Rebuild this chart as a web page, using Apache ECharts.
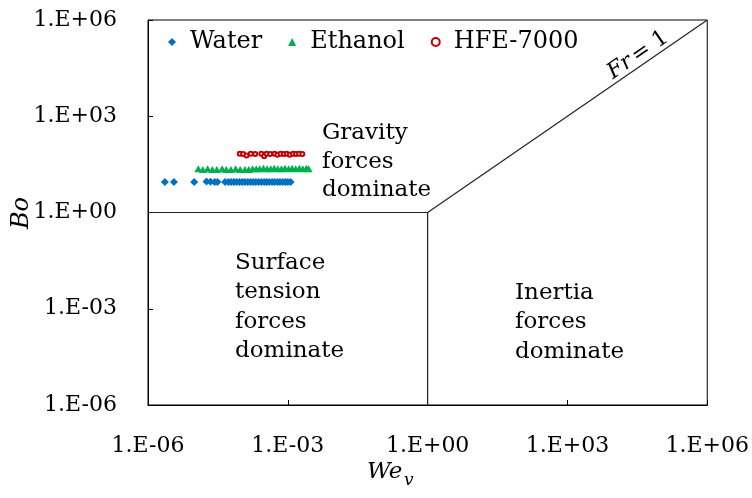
<!DOCTYPE html>
<html>
<head>
<meta charset="utf-8">
<script src="https://cdn.jsdelivr.net/npm/echarts@6/dist/echarts.min.js"></script>
<style>html,body{margin:0;padding:0;background:#fff}#c{width:752px;height:498px}</style>
</head>
<body>
<div id="c"></div>
<script>
// Data
const waterWe = [2.3e-6, 3.6e-6, 9.8e-6, 1.8e-5, 2.2e-5, 2.7e-5, 3.1e-5, 4.5e-5, 5.3e-5, 6.1e-5, 7.0e-5, 8.0e-5, 9.2e-5, 1.05e-4, 1.2e-4, 1.38e-4, 1.58e-4, 1.8e-4, 2.05e-4, 2.35e-4, 2.7e-4, 3.1e-4, 3.5e-4, 4.0e-4, 4.6e-4, 5.2e-4, 6.0e-4, 6.8e-4, 7.8e-4, 8.9e-4, 1.0e-3, 1.15e-3];
const waterBo = [9.0, 9.0, 9.0, 9.3, 9.1, 9.0, 8.9, 8.9, 9.0, 8.9, 9.0, 8.9, 9.0, 9.0, 8.9, 9.0, 9.0, 8.9, 9.0, 9.0, 8.9, 9.0, 9.0, 8.9, 9.0, 9.0, 8.9, 9.0, 9.0, 8.9, 9.0, 9.0];
const ethanolWe = [1.2e-5, 1.5e-5, 1.9e-5, 2.4e-5, 3.0e-5, 3.9e-5, 4.8e-5, 6.0e-5, 7.6e-5, 9.5e-5, 1.2e-4, 1.45e-4, 1.75e-4, 2.1e-4, 2.5e-4, 3.0e-4, 3.6e-4, 4.3e-4, 5.1e-4, 6.1e-4, 7.3e-4, 8.7e-4, 1.04e-3, 1.24e-3, 1.48e-3, 1.77e-3, 2.1e-3, 2.5e-3, 2.8e-3];
const ethanolBo = [23, 22, 23, 22, 22, 23, 22, 22, 23, 22, 22, 22, 23, 23, 23, 24, 23, 23, 24, 23, 23, 24, 23, 24, 23, 24, 23, 24, 23];
const hfeWe = [9.3e-5, 1.1e-4, 1.3e-4, 1.6e-4, 2.0e-4, 2.7e-4, 3.1e-4, 3.5e-4, 4.2e-4, 5.2e-4, 6.0e-4, 7.0e-4, 8.2e-4, 9.5e-4, 1.1e-3, 1.3e-3, 1.5e-3, 1.75e-3, 2.05e-3];
const hfeBo = [68, 66, 60, 68, 67, 68, 57, 68, 67, 68, 63, 68, 66, 68, 63, 68, 67, 68, 66];
// Regime boundaries (We, Bo)
const boundaryLine = [[1e-6, 1], [1, 1], [1, 1e-6]];
const froudeLine = [[1, 1], [1e6, 1e6]];
const axisMin = 1e-6, axisMax = 1e6;

const font = '"DejaVu Serif", "Liberation Serif", serif';
function zip(a, b) { return a.map((v, i) => [v, b[i]]); }
function fmt(v) {
  const e = Math.round(Math.log10(v));
  return '1.E' + (e < 0 ? '-' : '+') + String(Math.abs(e)).padStart(2, '0');
}
const chart = echarts.init(document.getElementById('c'), null, {renderer: 'canvas'});
const axisCommon = {
  type: 'log', logBase: 10, min: axisMin, max: axisMax, interval: 3,
  axisLine: {show: true, lineStyle: {color: '#000', width: 1}},
  axisTick: {show: true, inside: true, length: 5, lineStyle: {color: '#000'}},
  minorTick: {show: false}, splitLine: {show: false},
  axisLabel: {formatter: fmt, fontFamily: font, fontSize: 22, color: '#000'}
};
chart.setOption({
  animation: false,
  backgroundColor: '#fff',
  grid: {left: 148, top: 20, width: 561, height: 385, show: true, borderColor: '#000', borderWidth: 1, backgroundColor: 'transparent'},
  xAxis: Object.assign({}, axisCommon, {axisLabel: Object.assign({}, axisCommon.axisLabel, {margin: 30})}),
  yAxis: Object.assign({}, axisCommon, {axisLabel: Object.assign({}, axisCommon.axisLabel, {margin: 31})}),
  legend: {
    data: ['Water', 'Ethanol', 'HFE-7000'], left: 168, top: 30, padding: 0, itemWidth: 8, itemHeight: 8, itemGap: 26,
    textStyle: {fontFamily: font, fontSize: 24, color: '#000', padding: [0, 0, 0, 9]}
  },
  series: [
    {type: 'line', data: boundaryLine, symbol: 'none', silent: true, lineStyle: {color: '#222', width: 1.2}, z: 1},
    {type: 'line', data: froudeLine, symbol: 'none', silent: true, lineStyle: {color: '#222', width: 1.2}, z: 1},
    {name: 'Water', type: 'scatter', data: zip(waterWe, waterBo), symbol: 'diamond', symbolSize: 8, itemStyle: {color: '#0070C0', opacity: 1}},
    {name: 'Ethanol', type: 'scatter', data: zip(ethanolWe, ethanolBo), symbol: 'triangle', symbolSize: [8, 7], itemStyle: {color: '#00B050', opacity: 1}},
    {name: 'HFE-7000', type: 'scatter', data: zip(hfeWe, hfeBo), symbol: 'emptyCircle', symbolSize: 4, itemStyle: {color: '#C00000', borderColor: '#C00000', borderWidth: 1, opacity: 1}}
  ],
  graphic: [
    {type: 'text', left: 322, top: 119, style: {text: 'Gravity\nforces\ndominate', font: '23px ' + font, fill: '#000', lineHeight: 28.5}},
    {type: 'text', left: 235, top: 248, style: {text: 'Surface\ntension\nforces\ndominate', font: '23px ' + font, fill: '#000', lineHeight: 29.5}},
    {type: 'text', left: 515, top: 278, style: {text: 'Inertia\nforces\ndominate', font: '23px ' + font, fill: '#000', lineHeight: 29.5}},
    {type: 'text', x: 638, y: 55, rotation: 0.604, style: {
      text: '{i|Fr} {n|= 1}', align: 'center', verticalAlign: 'middle',
      rich: {i: {fontFamily: font, fontStyle: 'italic', fontSize: 22, fill: '#000'}, n: {fontFamily: font, fontSize: 22, fill: '#000'}}
    }},
    {type: 'text', x: 22, y: 213, rotation: Math.PI / 2, style: {text: 'Bo', font: 'italic 24px ' + font, fill: '#000', align: 'center', verticalAlign: 'middle'}},
    {type: 'text', x: 367, y: 472, style: {text: 'We', font: 'italic 23px ' + font, fill: '#000', align: 'left', verticalAlign: 'middle'}},
    {type: 'text', x: 404, y: 481, style: {text: 'v', font: 'italic 17px ' + font, fill: '#000', align: 'left', verticalAlign: 'middle'}}
  ]
});
</script>
</body>
</html>
